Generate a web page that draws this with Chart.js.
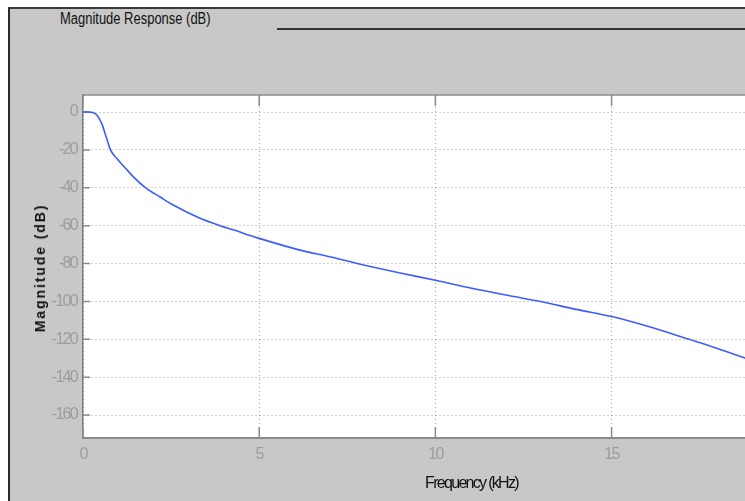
<!DOCTYPE html>
<html>
<head>
<meta charset="utf-8">
<script src="https://cdn.jsdelivr.net/npm/chart.js@4"></script>
<style>
  html, body { margin: 0; padding: 0; background: #fff; overflow: hidden; width: 745px; height: 501px; }
  #frame { position: absolute; left: 8px; top: 7px; width: 745px; height: 500px; background: #c8c8c8;
           border-left: 2px solid #2a2a2a; border-top: 2px solid #3a3a3a; }
  #title { position: absolute; left: 60px; top: 10px; color: #111; transform: scaleX(0.81); transform-origin: 0 0;
           font: 16px "Liberation Sans", Arial, sans-serif; white-space: nowrap; }
  #ylabel { position: absolute; left: 40px; top: 268px; color: #111; white-space: nowrap;
            font: bold 14px "Liberation Sans", Arial, sans-serif; letter-spacing: 1.9px;
            transform: translate(-50%, -50%) rotate(-90deg); }
  #rule { position: absolute; left: 277px; top: 28px; width: 480px; height: 2px; background: #333; }
  #wrap { position: absolute; left: 0; top: 0; }
</style>
</head>
<body>
<div id="frame"></div>
<div id="title">Magnitude Response (dB)</div>
<div id="rule"></div>
<div id="wrap"><canvas id="chart" width="900" height="501"></canvas></div>
<div id="ylabel">Magnitude (dB)</div>
<script>
// frequency (kHz) and magnitude (dB)
const freqKHz = [0, 0.15, 0.28, 0.39, 0.53, 0.67, 0.78, 0.96, 1.2, 1.43, 1.78, 2.2, 2.56, 3.32, 3.89, 4.26,
                 5, 6.16, 7, 7.78, 9, 10, 11, 12, 12.98, 14, 15, 16, 17.2, 18, 18.8, 19.2];
const magDB = [0, 0, -0.3, -1.6, -6, -13.9, -20, -24.5, -29.5, -34.2, -40, -45, -49.1, -56.1, -60, -62.2,
               -66.7, -72.9, -76.4, -80, -85, -88.8, -92.9, -96.6, -100, -104.2, -108, -113, -120, -124.8, -130, -133];

const xTicks = [0, 5, 10, 15, 20];
const yTicks = [0, -20, -40, -60, -80, -100, -120, -140, -160];

const sans = '"Liberation Sans", Arial, sans-serif';

// white plot area on the gray panel, squeezed text like the screenshot
const plotBg = {
  id: "plotBg",
  beforeDraw(chart) {
    const { ctx, chartArea: a } = chart;
    ctx.letterSpacing = "-1.7px";
    ctx.save();
    ctx.fillStyle = "#fff";
    ctx.fillRect(a.left, a.top, a.right - a.left, a.bottom - a.top);
    ctx.restore();
  },
};

// matlab style inward ticks + top edge
const innerTicks = {
  id: "innerTicks",
  beforeDatasetsDraw(chart) {
    const { ctx, chartArea: a, scales } = chart;
    ctx.save();
    ctx.strokeStyle = "#8a8a8a";
    ctx.lineWidth = 1.5;
    ctx.beginPath();
    ctx.moveTo(a.left, a.top);
    ctx.lineTo(a.right, a.top);
    xTicks.forEach((v) => {
      const px = scales.x.getPixelForValue(v);
      ctx.moveTo(px, a.bottom);
      ctx.lineTo(px, a.bottom - 11);
      ctx.moveTo(px, a.top);
      ctx.lineTo(px, a.top + 11);
    });
    yTicks.forEach((v) => {
      const py = scales.y.getPixelForValue(v);
      ctx.moveTo(a.left, py);
      ctx.lineTo(a.left + 7, py);
    });
    ctx.stroke();
    ctx.restore();
  },
};

new Chart(document.getElementById("chart"), {
  type: "line",
  data: {
    datasets: [
      {
        data: freqKHz.map((f, i) => ({ x: f, y: magDB[i] })),
        borderColor: "#3d5cff",
        borderWidth: 1.6,
        pointRadius: 0,
        cubicInterpolationMode: "monotone",
      },
    ],
  },
  options: {
    responsive: false,
    animation: false,
    devicePixelRatio: 1,
    layout: { padding: { top: 95, right: 40, left: 0, bottom: 0 } },
    scales: {
      x: {
        type: "linear",
        min: 0,
        max: 22.05,
        afterBuildTicks: (s) => { s.ticks = xTicks.map((v) => ({ value: v })); },
        afterFit: (s) => { s.height = 63; },
        grid: { color: "#a0a0a0", lineWidth: 1, drawTicks: false },
        border: { display: true, color: "#8a8a8a", width: 2, dash: [1, 3] },
        ticks: { color: "#9c9c9c", font: { size: 16, family: sans }, padding: 7 },
        title: {
          display: true,
          text: "Frequency (kHz)",
          color: "#111",
          font: { size: 16, family: sans },
          padding: { top: 0, bottom: 8 },
        },
      },
      y: {
        min: -172.1,
        max: 9,
        afterBuildTicks: (s) => { s.ticks = yTicks.map((v) => ({ value: v })); },
        afterFit: (s) => { s.width = 83; },
        grid: { color: "#a0a0a0", lineWidth: 1, drawTicks: false },
        border: { display: true, color: "#7a7a7a", width: 1.5, dash: [1, 3] },
        ticks: { color: "#9c9c9c", font: { size: 16, family: sans }, padding: 6, callback: (v) => String(v) },
      },
    },
    plugins: {
      legend: { display: false },
      tooltip: { enabled: false },
    },
  },
  plugins: [plotBg, innerTicks],
});
</script>
</body>
</html>
